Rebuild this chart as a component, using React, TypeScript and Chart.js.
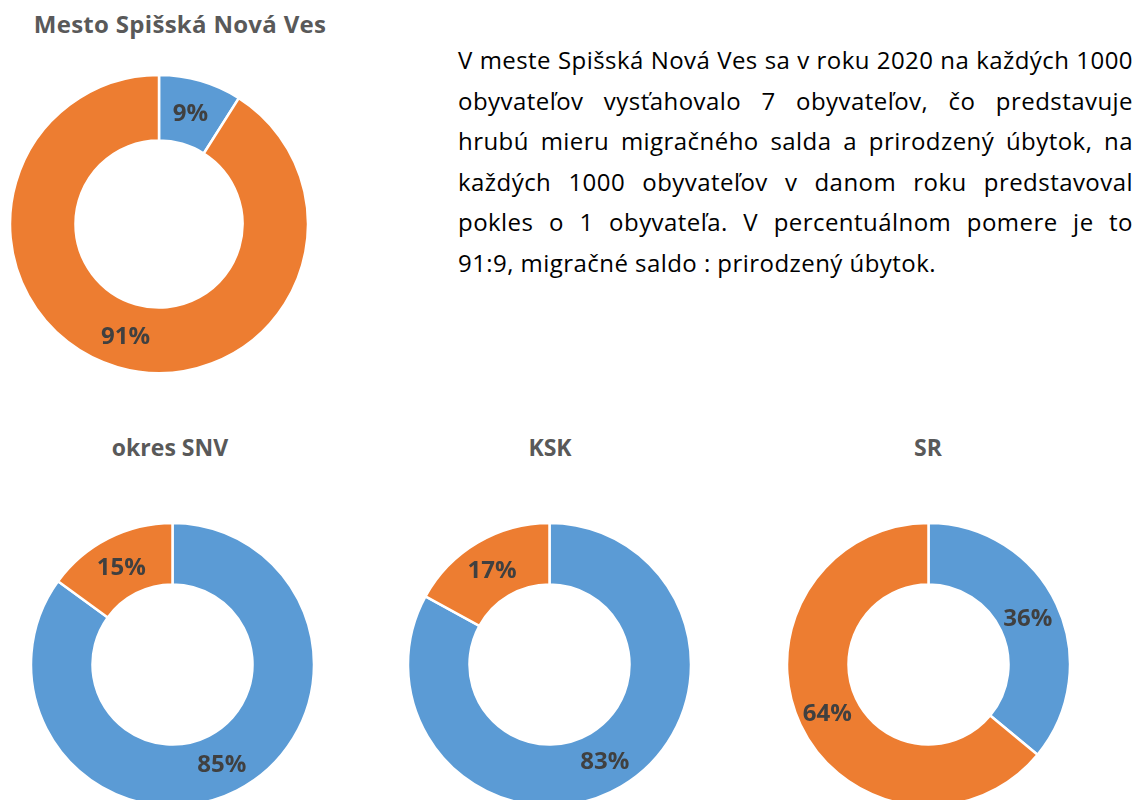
import React, { useEffect, useRef } from "react";
import { Chart, registerables } from "chart.js";

Chart.register(...registerables);

// ---- Data ----
const CATEGORIES = ["prirodzený úbytok", "migračné saldo"];
const MESTO_VALUES = [9, 91];
const OKRES_VALUES = [85, 15];
const KSK_VALUES = [83, 17];
const SR_VALUES = [36, 64];
const CHART_TITLES = ["Mesto Spišská Nová Ves", "okres SNV", "KSK", "SR"];
const COLORS = ["#5B9BD5", "#ED7D31"];

const PARAGRAPH_LINES = [
  "V meste Spišská Nová Ves sa v roku 2020 na každých 1000",
  "obyvateľov vysťahovalo 7 obyvateľov, čo predstavuje",
  "hrubú mieru migračného salda a prirodzený úbytok, na",
  "každých 1000 obyvateľov v danom roku predstavoval",
  "pokles o 1 obyvateľa. V percentuálnom pomere je to",
  "91:9, migračné saldo : prirodzený úbytok.",
];

const FONT = "'Open Sans', Lato, sans-serif";

const labelPlugin = {
  id: "sliceLabels",
  afterDatasetsDraw(chart: any) {
    const ctx = chart.ctx;
    const meta = chart.getDatasetMeta(0);
    const data = chart.data.datasets[0].data as number[];
    ctx.save();
    ctx.font = `bold 24px ${FONT}`;
    ctx.fillStyle = "#404040";
    ctx.textAlign = "center";
    ctx.textBaseline = "middle";
    meta.data.forEach((arc: any, i: number) => {
      const p = arc.tooltipPosition();
      ctx.fillText(`${data[i]}%`, p.x - 1, p.y + 2);
    });
    ctx.restore();
  },
};

type DonutProps = {
  values: number[];
  cx: number;
  cy: number;
  radius: number;
  inner: number;
};

function Donut({ values, cx, cy, radius, inner }: DonutProps) {
  const ref = useRef<HTMLCanvasElement | null>(null);
  const size = Math.ceil((radius + 3) * 2);
  useEffect(() => {
    if (!ref.current) return;
    const chart = new Chart(ref.current, {
      type: "doughnut",
      data: {
        labels: CATEGORIES,
        datasets: [
          {
            data: values,
            backgroundColor: COLORS,
            borderColor: "#FFFFFF",
            borderWidth: 2.5,
            hoverOffset: 0,
          },
        ],
      },
      options: {
        animation: false,
        responsive: false,
        maintainAspectRatio: false,
        radius: radius,
        cutout: inner,
        layout: { padding: 0 },
        plugins: {
          legend: { display: false },
          tooltip: { enabled: false },
          title: { display: false },
        },
      } as any,
      plugins: [labelPlugin],
    });
    return () => chart.destroy();
  }, [values, radius, inner]);
  return (
    <canvas
      ref={ref}
      width={size}
      height={size}
      style={{
        position: "absolute",
        left: cx - size / 2,
        top: cy - size / 2,
        width: size,
        height: size,
      }}
    />
  );
}

function Title({
  text,
  cx,
  cy,
  size,
  spacing,
}: {
  text: string;
  cx: number;
  cy: number;
  size: number;
  spacing: number;
}) {
  return (
    <div
      style={{
        position: "absolute",
        left: cx - 200,
        top: cy - 15,
        width: 400,
        height: 30,
        lineHeight: "30px",
        textAlign: "center",
        fontFamily: FONT,
        fontWeight: 700,
        fontSize: size,
        letterSpacing: spacing,
        color: "#595959",
        whiteSpace: "nowrap",
      }}
    >
      {text}
    </div>
  );
}

export default function App() {
  return (
    <div
      style={{
        position: "absolute",
        left: 0,
        top: 0,
        width: 1141,
        height: 800,
        overflow: "hidden",
        background: "#FFFFFF",
      }}
    >
      <Title text={CHART_TITLES[0]} cx={180} cy={24} size={24} spacing={0.3} />
      <Donut values={MESTO_VALUES} cx={158.5} cy={224} radius={149} inner={84.5} />

      <div
        style={{
          position: "absolute",
          left: 458,
          top: 40,
          width: 675,
          fontFamily: FONT,
          fontSize: 24,
          letterSpacing: 0.45,
          color: "#000000",
          lineHeight: "40.6px",
        }}
      >
        {PARAGRAPH_LINES.map((line, i) => (
          <div
            key={i}
            style={{
              textAlign: i < PARAGRAPH_LINES.length - 1 ? "justify" : "left",
              textAlignLast: i < PARAGRAPH_LINES.length - 1 ? "justify" : "left",
              whiteSpace: "nowrap",
            } as any}
          >
            {line}
          </div>
        ))}
      </div>

      <Title text={CHART_TITLES[1]} cx={170} cy={447} size={23} spacing={0} />
      <Title text={CHART_TITLES[2]} cx={550} cy={447} size={23} spacing={0} />
      <Title text={CHART_TITLES[3]} cx={928} cy={447} size={23} spacing={0} />

      <Donut values={OKRES_VALUES} cx={172} cy={664} radius={141.5} inner={81} />
      <Donut values={KSK_VALUES} cx={549.5} cy={664} radius={141.5} inner={81} />
      <Donut values={SR_VALUES} cx={928} cy={664} radius={141.5} inner={81} />
    </div>
  );
}
